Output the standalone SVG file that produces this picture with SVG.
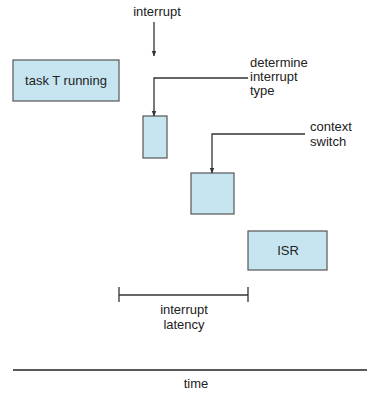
<svg xmlns="http://www.w3.org/2000/svg" width="367" height="394" viewBox="0 0 367 394">
<defs>
<style>
.box{fill:#c6e5f0;stroke:#555;stroke-width:1.2}
.t{font-family:"Liberation Sans",Arial,sans-serif;font-size:13px;fill:#222}
.c{text-anchor:middle}
.ln{fill:none;stroke:#333;stroke-width:1.3}
</style>
<marker id="ah" viewBox="0 0 10 10" refX="9" refY="5" markerWidth="6" markerHeight="6" orient="auto" markerUnits="userSpaceOnUse">
<path d="M0,1 L10,5 L0,9 z" fill="#333"/>
</marker>
</defs>
<rect width="367" height="394" fill="#fff"/>
<g id="task">
<rect class="box" x="13" y="60" width="106" height="41"/>
<text class="t c" x="66" y="85">task T running</text>
</g>
<g id="determine">
<rect class="box" x="143" y="116" width="24" height="42"/>
</g>
<g id="context">
<rect class="box" x="191" y="173" width="43" height="41"/>
</g>
<g id="isr">
<rect class="box" x="248" y="231" width="79" height="39"/>
<text class="t c" x="288" y="255">ISR</text>
</g>
<g id="labels">
<text class="t c" x="157" y="16">interrupt</text>
<text class="t" x="250" y="67">determine</text>
<text class="t" x="250" y="81">interrupt</text>
<text class="t" x="250" y="95">type</text>
<text class="t" x="310" y="131">context</text>
<text class="t" x="310" y="146">switch</text>
<text class="t c" x="184" y="314">interrupt</text>
<text class="t c" x="184" y="329">latency</text>
<text class="t c" x="196" y="388">time</text>
</g>
<g id="connectors">
<line class="ln" x1="154" y1="22" x2="154" y2="56" marker-end="url(#ah)"/>
<polyline class="ln" points="248,78 154,78 154,116" marker-end="url(#ah)"/>
<polyline class="ln" points="305,134 212,134 212,173" marker-end="url(#ah)"/>
<line class="ln" x1="119" y1="295" x2="248" y2="295"/>
<line class="ln" x1="119" y1="287" x2="119" y2="302"/>
<line class="ln" x1="248" y1="287" x2="248" y2="302"/>
<line x1="13" y1="370" x2="367" y2="370" stroke="#222" stroke-width="1.6"/>
</g>
</svg>
